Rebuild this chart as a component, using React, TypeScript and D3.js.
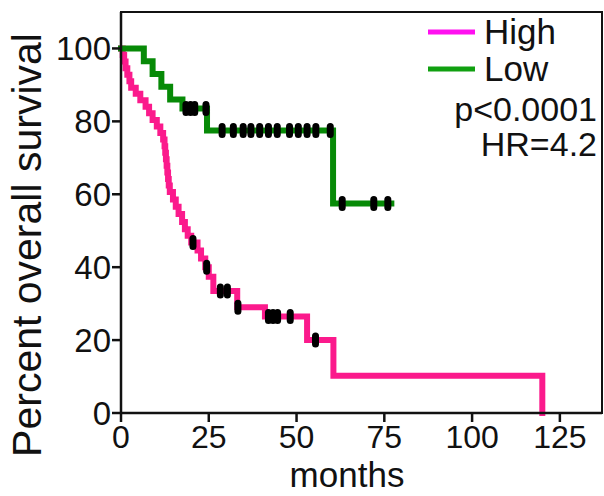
import React from "react";
import * as d3 from "d3";

const xTicks = [0, 25, 50, 75, 100, 125];
const yTicks = [0, 20, 40, 60, 80, 100];

const highTimes = [0, 0.5, 0.9, 1.3, 1.8, 2.4, 2.9, 4.2, 5.5, 7.0, 8.0, 9.0, 10.2, 11.2, 12.0, 12.4, 12.6, 12.8, 13.0, 13.2, 13.4, 13.6, 13.9, 14.8, 15.6, 16.4, 17.4, 18.2, 19.0, 20.0, 21.8, 22.8, 24.0, 25.0, 26.3, 33.1, 41.0, 53.0, 60.5, 120];
const highSurv = [100, 98.2, 96.4, 94.6, 92.8, 91, 89.2, 87.6, 85.8, 84, 82.2, 80.4, 78.6, 76.8, 75, 73.2, 71.4, 69.6, 67.8, 66, 64.2, 62.4, 60.6, 58.6, 56.6, 54.6, 52.4, 50.4, 48.6, 46.8, 44.6, 42.4, 40, 37.4, 33.5, 29, 26.5, 20, 10.2, 0];
const highEnd = 120;
const highCensor = [20.5, 24.4, 28.3, 30.3, 33.3, 42, 43.3, 44.6, 48.2, 55.4];

const lowTimes = [0, 6.5, 9, 11.5, 14, 17.5, 24.5, 60.4];
const lowSurv = [100, 96.5, 93, 89.5, 86, 83.5, 77.5, 57.5];
const lowEnd = 77;
const lowCensor = [18.5, 19.8, 21, 24.2, 28.8, 32, 34.8, 37, 39.5, 42, 44.5, 48, 50.5, 53, 55.5, 59.6, 63, 72, 76];

const groups = ["High", "Low"];
const curveColors = ["#fb1a8c", "#078a07"];
const legendColors = ["#ff10f0", "#10a010"];

const FONT = "'Liberation Sans', Arial, sans-serif";

function survAt(times: number[], surv: number[], t: number) {
  let s = surv[0];
  for (let i = 0; i < times.length; i++) if (times[i] <= t) s = surv[i];
  return s;
}

export default function App() {
  const x = d3.scaleLinear().domain([0, 137]).range([121, 602]);
  const y = d3.scaleLinear().domain([0, 110]).range([413, 12]);
  const line = d3
    .line<[number, number]>()
    .x((d) => x(d[0]))
    .y((d) => y(d[1]))
    .curve(d3.curveStepAfter);

  const highPts: [number, number][] = highTimes.map((t, i) => [t, highSurv[i]]);
  const lowPts: [number, number][] = lowTimes.map((t, i) => [t, lowSurv[i]]);
  lowPts.push([lowEnd, lowSurv[lowSurv.length - 1]]);
  if (highTimes[highTimes.length - 1] < highEnd) highPts.push([highEnd, highSurv[highSurv.length - 1]]);

  const series = [
    { pts: highPts, censor: highCensor.map((t) => [t, survAt(highTimes, highSurv, t)]) },
    { pts: lowPts, censor: lowCensor.map((t) => [t, survAt(lowTimes, lowSurv, t)]) },
  ];

  return (
    <svg width={604} height={496} style={{ position: "fixed", left: 0, top: 0, background: "#fff" }} fontFamily={FONT}>
      <rect x={0} y={0} width={604} height={496} fill="#fff" />
      <rect x={x(0)} y={y(110)} width={x(137) - x(0)} height={y(0) - y(110)} fill="none" stroke="#111" strokeWidth={2} />
      {series.map((s, i) => (
        <g key={groups[i]}>
          <path d={line(s.pts) || ""} fill="none" stroke={curveColors[i]} strokeWidth={6} strokeLinejoin="miter" strokeLinecap="square" />
          {s.censor.map((c, j) => (
            <rect key={j} x={x(c[0]) - 3.5} y={y(c[1]) - 7.5} width={7} height={15} rx={3.5} fill="#000" />
          ))}
        </g>
      ))}
      <line x1={x(0)} x2={x(0)} y1={y(110)} y2={y(0)} stroke="#111" strokeWidth={2.5} />
      <line x1={x(0)} x2={x(137)} y1={y(0)} y2={y(0)} stroke="#111" strokeWidth={2.5} />
      {yTicks.map((t) => (
        <g key={"y" + t}>
          <line x1={x(0) - 9} x2={x(0)} y1={y(t)} y2={y(t)} stroke="#111" strokeWidth={2.5} />
          <text x={x(0) - 10} y={y(t)} dy="0.36em" textAnchor="end" fontSize={33} fill="#111">
            {t}
          </text>
        </g>
      ))}
      {xTicks.map((t) => (
        <g key={"x" + t}>
          <line x1={x(t)} x2={x(t)} y1={y(0)} y2={y(0) + 9} stroke="#111" strokeWidth={2.5} />
          <text x={x(t)} y={448} textAnchor="middle" fontSize={32} fill="#111">
            {t}
          </text>
        </g>
      ))}
      <text x={347} y={487} textAnchor="middle" fontSize={35} fill="#111">
        months
      </text>
      <text transform={`translate(41,245) rotate(-90)`} textAnchor="middle" fontSize={41} fill="#111">
        Percent overall survival
      </text>
      {groups.map((g, i) => (
        <g key={"lg" + g}>
          <line x1={428} x2={475} y1={32 + i * 37} y2={32 + i * 37} stroke={legendColors[i]} strokeWidth={5} />
          <text x={484} y={44 + i * 37} fontSize={35} fill="#111">
            {g}
          </text>
        </g>
      ))}
      <text x={597} y={121} textAnchor="end" fontSize={34} fill="#111">
        p&lt;0.0001
      </text>
      <text x={597} y={156} textAnchor="end" fontSize={34} fill="#111">
        HR=4.2
      </text>
    </svg>
  );
}
